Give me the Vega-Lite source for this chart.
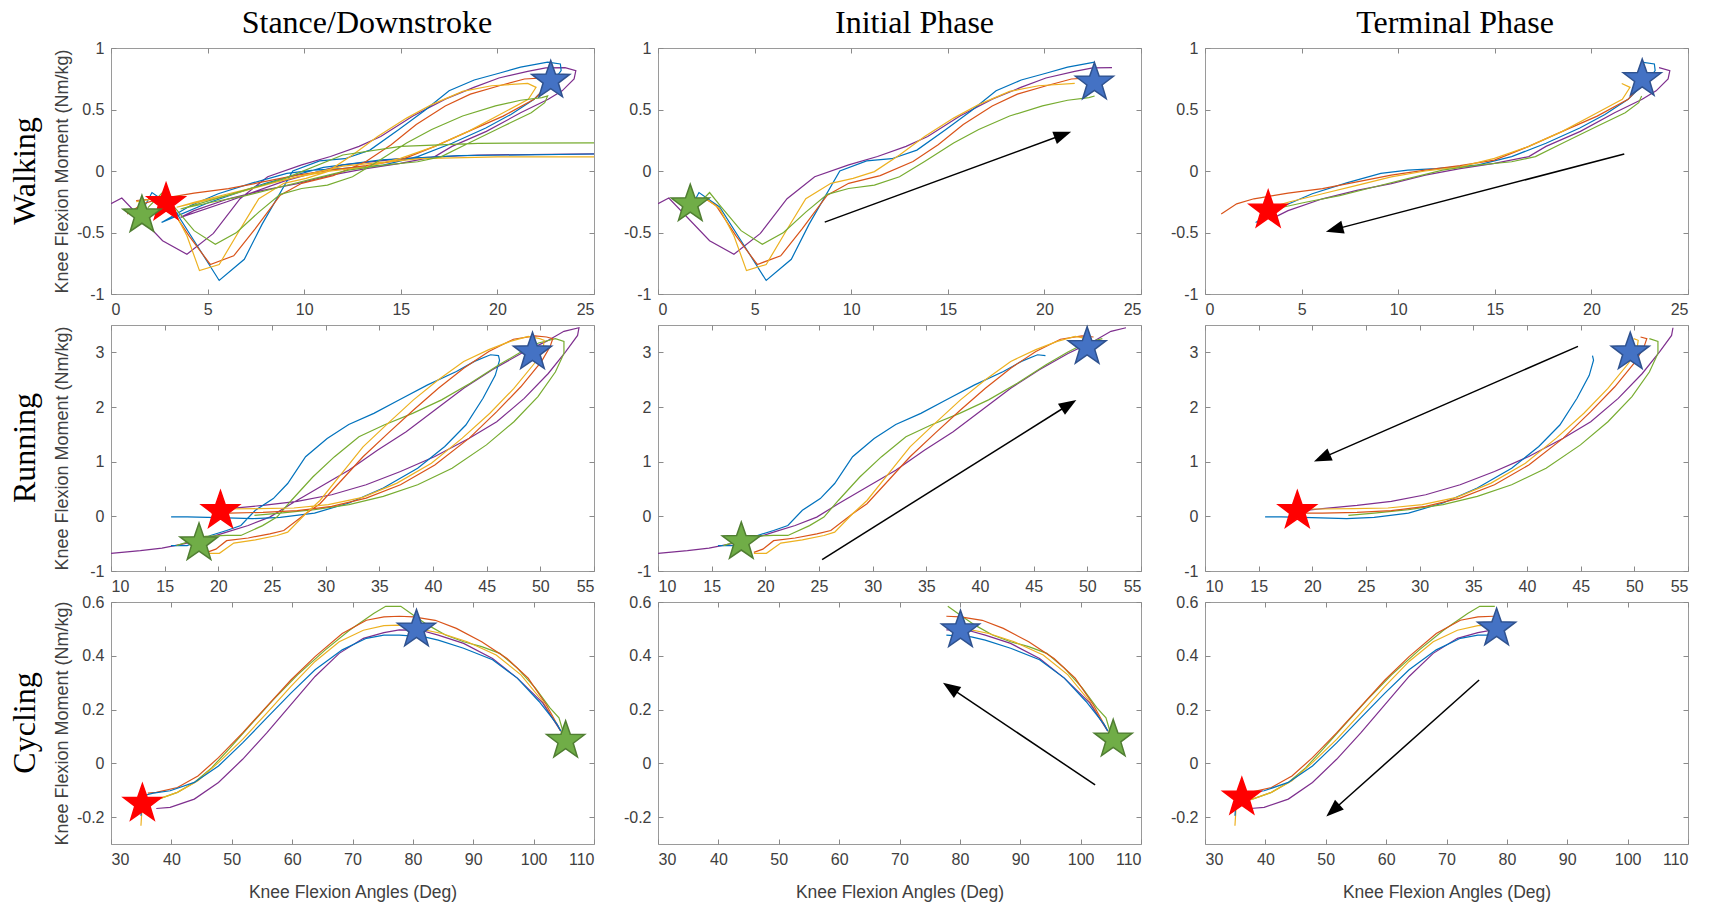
{
"$schema": "https://vega.github.io/schema/vega-lite/v6.json",
"padding": {"left": 8, "top": 6, "right": 5, "bottom": 5},
"columns": 3,
"bounds": "flush",
"spacing": {"row": 31, "column": 64},
"config": {
  "font": "Liberation Sans",
  "view": {"stroke": "#9a9a9a", "strokeWidth": 1},
  "axis": {"domain": false, "grid": false, "tickColor": "#8a8a8a", "tickSize": -5, "labelPadding": 12, "labelFont": "Liberation Sans", "labelFontSize": 16, "labelColor": "#404040", "titleFont": "Liberation Sans", "titleFontSize": 17.5, "titleFontWeight": "normal", "titleColor": "#404040", "labelExpr": "toString(datum.value)"}
},
"datasets": {
"lines": [
{"a":"W","g":"I","s":"purple","o":0,"x":0,"y":-0.266},{"a":"W","g":"I","s":"purple","o":1,"x":0.56,"y":-0.22},{"a":"W","g":"I","s":"purple","o":2,"x":2.67,"y":-0.567},{"a":"W","g":"I","s":"purple","o":3,"x":3.93,"y":-0.677},{"a":"W","g":"I","s":"purple","o":4,"x":5.3,"y":-0.507},{"a":"W","g":"I","s":"purple","o":5,"x":6.68,"y":-0.225},{"a":"W","g":"I","s":"purple","o":6,"x":8.11,"y":-0.047},{"a":"W","g":"I","s":"purple","o":7,"x":9.87,"y":0.05},{"a":"W","g":"I","s":"purple","o":8,"x":11.36,"y":0.118},{"a":"W","g":"I","s":"purple","o":9,"x":12.84,"y":0.2},{"a":"W","g":"I","s":"purple","o":10,"x":13.96,"y":0.28},{"a":"W","g":"I","s":"purple","o":11,"x":15.63,"y":0.447},{"a":"W","g":"I","s":"purple","o":12,"x":17.3,"y":0.584},{"a":"W","g":"I","s":"purple","o":13,"x":18.78,"y":0.68},{"a":"W","g":"I","s":"purple","o":14,"x":20.08,"y":0.756},{"a":"W","g":"I","s":"purple","o":15,"x":21.57,"y":0.81},{"a":"W","g":"I","s":"purple","o":16,"x":22.5,"y":0.838},{"a":"W","g":"I","s":"purple","o":17,"x":23.5,"y":0.84},
{"a":"W","g":"T","s":"purple","o":100,"x":23.5,"y":0.84},{"a":"W","g":"T","s":"purple","o":101,"x":24.06,"y":0.816},{"a":"W","g":"T","s":"purple","o":102,"x":23.97,"y":0.748},{"a":"W","g":"T","s":"purple","o":103,"x":23.35,"y":0.652},{"a":"W","g":"T","s":"purple","o":104,"x":22.63,"y":0.583},{"a":"W","g":"T","s":"purple","o":105,"x":21.2,"y":0.473},{"a":"W","g":"T","s":"purple","o":106,"x":19.43,"y":0.322},{"a":"W","g":"T","s":"purple","o":107,"x":17.65,"y":0.2},{"a":"W","g":"T","s":"purple","o":108,"x":16.76,"y":0.117},{"a":"W","g":"T","s":"purple","o":109,"x":14.98,"y":0.062},{"a":"W","g":"T","s":"purple","o":110,"x":13.2,"y":0.02},{"a":"W","g":"T","s":"purple","o":111,"x":11.4,"y":-0.034},{"a":"W","g":"T","s":"purple","o":112,"x":9.64,"y":-0.103},{"a":"W","g":"T","s":"purple","o":113,"x":7.86,"y":-0.158},{"a":"W","g":"T","s":"purple","o":114,"x":6.08,"y":-0.226},{"a":"W","g":"T","s":"purple","o":115,"x":4.3,"y":-0.322},{"a":"W","g":"T","s":"purple","o":116,"x":3.6,"y":-0.377},
{"a":"W","g":"X","s":"purple","o":200,"x":3.6,"y":-0.377},{"a":"W","g":"X","s":"purple","o":201,"x":6,"y":-0.25},{"a":"W","g":"X","s":"purple","o":202,"x":9,"y":-0.08},{"a":"W","g":"X","s":"purple","o":203,"x":12,"y":0.05},{"a":"W","g":"X","s":"purple","o":204,"x":15,"y":0.1},{"a":"W","g":"X","s":"purple","o":205,"x":19,"y":0.13},{"a":"W","g":"X","s":"purple","o":206,"x":26,"y":0.14},
{"a":"W","g":"I","s":"blue","o":0,"x":1.8,"y":-0.27},{"a":"W","g":"I","s":"blue","o":1,"x":2.12,"y":-0.175},{"a":"W","g":"I","s":"blue","o":2,"x":3.19,"y":-0.293},{"a":"W","g":"I","s":"blue","o":3,"x":4.3,"y":-0.567},{"a":"W","g":"I","s":"blue","o":4,"x":5.6,"y":-0.89},{"a":"W","g":"I","s":"blue","o":5,"x":6.9,"y":-0.718},{"a":"W","g":"I","s":"blue","o":6,"x":7.83,"y":-0.43},{"a":"W","g":"I","s":"blue","o":7,"x":9.41,"y":0.0},{"a":"W","g":"I","s":"blue","o":8,"x":10.8,"y":0.082},{"a":"W","g":"I","s":"blue","o":9,"x":12.1,"y":0.1},{"a":"W","g":"I","s":"blue","o":10,"x":13.4,"y":0.17},{"a":"W","g":"I","s":"blue","o":11,"x":14.9,"y":0.337},{"a":"W","g":"I","s":"blue","o":12,"x":16.2,"y":0.488},{"a":"W","g":"I","s":"blue","o":13,"x":17.5,"y":0.652},{"a":"W","g":"I","s":"blue","o":14,"x":18.8,"y":0.74},{"a":"W","g":"I","s":"blue","o":15,"x":20.08,"y":0.795},{"a":"W","g":"I","s":"blue","o":16,"x":21.2,"y":0.844},{"a":"W","g":"I","s":"blue","o":17,"x":22.6,"y":0.885},
{"a":"W","g":"T","s":"blue","o":100,"x":22.6,"y":0.885},{"a":"W","g":"T","s":"blue","o":101,"x":23.26,"y":0.87},{"a":"W","g":"T","s":"blue","o":102,"x":23.3,"y":0.816},{"a":"W","g":"T","s":"blue","o":103,"x":22.97,"y":0.748},{"a":"W","g":"T","s":"blue","o":104,"x":21.9,"y":0.583},{"a":"W","g":"T","s":"blue","o":105,"x":20.7,"y":0.46},{"a":"W","g":"T","s":"blue","o":106,"x":19.4,"y":0.35},{"a":"W","g":"T","s":"blue","o":107,"x":17.65,"y":0.226},{"a":"W","g":"T","s":"blue","o":108,"x":15.87,"y":0.117},{"a":"W","g":"T","s":"blue","o":109,"x":14.1,"y":0.048},{"a":"W","g":"T","s":"blue","o":110,"x":11.96,"y":0.02},{"a":"W","g":"T","s":"blue","o":111,"x":10.5,"y":0.007},{"a":"W","g":"T","s":"blue","o":112,"x":9.1,"y":-0.02},{"a":"W","g":"T","s":"blue","o":113,"x":7.33,"y":-0.097},{"a":"W","g":"T","s":"blue","o":114,"x":5.55,"y":-0.185},{"a":"W","g":"T","s":"blue","o":115,"x":4.13,"y":-0.28},{"a":"W","g":"T","s":"blue","o":116,"x":2.62,"y":-0.418},
{"a":"W","g":"X","s":"blue","o":200,"x":2.62,"y":-0.418},{"a":"W","g":"X","s":"blue","o":201,"x":5,"y":-0.26},{"a":"W","g":"X","s":"blue","o":202,"x":8,"y":-0.1},{"a":"W","g":"X","s":"blue","o":203,"x":11,"y":0.03},{"a":"W","g":"X","s":"blue","o":204,"x":14,"y":0.09},{"a":"W","g":"X","s":"blue","o":205,"x":18,"y":0.125},{"a":"W","g":"X","s":"blue","o":206,"x":26,"y":0.14},
{"a":"W","g":"I","s":"orange","o":0,"x":1.3,"y":-0.24},{"a":"W","g":"I","s":"orange","o":1,"x":2.45,"y":-0.225},{"a":"W","g":"I","s":"orange","o":2,"x":3.0,"y":-0.28},{"a":"W","g":"I","s":"orange","o":3,"x":4.03,"y":-0.526},{"a":"W","g":"I","s":"orange","o":4,"x":5.14,"y":-0.76},{"a":"W","g":"I","s":"orange","o":5,"x":6.35,"y":-0.69},{"a":"W","g":"I","s":"orange","o":6,"x":7.46,"y":-0.47},{"a":"W","g":"I","s":"orange","o":7,"x":8.76,"y":-0.197},{"a":"W","g":"I","s":"orange","o":8,"x":9.87,"y":-0.1},{"a":"W","g":"I","s":"orange","o":9,"x":11.5,"y":-0.038},{"a":"W","g":"I","s":"orange","o":10,"x":13.2,"y":0.077},{"a":"W","g":"I","s":"orange","o":11,"x":14.5,"y":0.214},{"a":"W","g":"I","s":"orange","o":12,"x":15.8,"y":0.378},{"a":"W","g":"I","s":"orange","o":13,"x":17.3,"y":0.529},{"a":"W","g":"I","s":"orange","o":14,"x":18.6,"y":0.625},{"a":"W","g":"I","s":"orange","o":15,"x":20.1,"y":0.693},{"a":"W","g":"I","s":"orange","o":16,"x":21.4,"y":0.748},{"a":"W","g":"I","s":"orange","o":17,"x":22.4,"y":0.757},
{"a":"W","g":"T","s":"orange","o":100,"x":22.4,"y":0.757},{"a":"W","g":"T","s":"orange","o":101,"x":22.6,"y":0.7},{"a":"W","g":"T","s":"orange","o":102,"x":21.9,"y":0.583},{"a":"W","g":"T","s":"orange","o":103,"x":20.3,"y":0.446},{"a":"W","g":"T","s":"orange","o":104,"x":18.5,"y":0.322},{"a":"W","g":"T","s":"orange","o":105,"x":16.76,"y":0.2},{"a":"W","g":"T","s":"orange","o":106,"x":14.98,"y":0.089},{"a":"W","g":"T","s":"orange","o":107,"x":13.2,"y":0.043},{"a":"W","g":"T","s":"orange","o":108,"x":11.4,"y":0.007},{"a":"W","g":"T","s":"orange","o":109,"x":9.64,"y":-0.034},{"a":"W","g":"T","s":"orange","o":110,"x":7.86,"y":-0.089},{"a":"W","g":"T","s":"orange","o":111,"x":6.08,"y":-0.144},{"a":"W","g":"T","s":"orange","o":112,"x":4.3,"y":-0.18},{"a":"W","g":"T","s":"orange","o":113,"x":2.53,"y":-0.226},{"a":"W","g":"T","s":"orange","o":114,"x":1.64,"y":-0.267},{"a":"W","g":"T","s":"orange","o":115,"x":0.84,"y":-0.35},
{"a":"W","g":"I","s":"yellow","o":0,"x":1.3,"y":-0.25},{"a":"W","g":"I","s":"yellow","o":1,"x":2.45,"y":-0.22},{"a":"W","g":"I","s":"yellow","o":2,"x":3.19,"y":-0.307},{"a":"W","g":"I","s":"yellow","o":3,"x":3.93,"y":-0.526},{"a":"W","g":"I","s":"yellow","o":4,"x":4.58,"y":-0.81},{"a":"W","g":"I","s":"yellow","o":5,"x":5.6,"y":-0.76},{"a":"W","g":"I","s":"yellow","o":6,"x":6.7,"y":-0.47},{"a":"W","g":"I","s":"yellow","o":7,"x":7.65,"y":-0.225},{"a":"W","g":"I","s":"yellow","o":8,"x":8.95,"y":-0.1},{"a":"W","g":"I","s":"yellow","o":9,"x":10.1,"y":-0.06},{"a":"W","g":"I","s":"yellow","o":10,"x":11.2,"y":-0.005},{"a":"W","g":"I","s":"yellow","o":11,"x":12.5,"y":0.13},{"a":"W","g":"I","s":"yellow","o":12,"x":13.8,"y":0.28},{"a":"W","g":"I","s":"yellow","o":13,"x":15.3,"y":0.43},{"a":"W","g":"I","s":"yellow","o":14,"x":16.6,"y":0.54},{"a":"W","g":"I","s":"yellow","o":15,"x":18.2,"y":0.647},{"a":"W","g":"I","s":"yellow","o":16,"x":19.7,"y":0.693},{"a":"W","g":"I","s":"yellow","o":17,"x":21.57,"y":0.712},
{"a":"W","g":"T","s":"yellow","o":100,"x":21.57,"y":0.712},{"a":"W","g":"T","s":"yellow","o":101,"x":22.0,"y":0.68},{"a":"W","g":"T","s":"yellow","o":102,"x":21.6,"y":0.583},{"a":"W","g":"T","s":"yellow","o":103,"x":20.3,"y":0.473},{"a":"W","g":"T","s":"yellow","o":104,"x":18.5,"y":0.322},{"a":"W","g":"T","s":"yellow","o":105,"x":16.76,"y":0.2},{"a":"W","g":"T","s":"yellow","o":106,"x":14.98,"y":0.103},{"a":"W","g":"T","s":"yellow","o":107,"x":13.2,"y":0.034},{"a":"W","g":"T","s":"yellow","o":108,"x":11.4,"y":0.0},{"a":"W","g":"T","s":"yellow","o":109,"x":9.64,"y":-0.048},{"a":"W","g":"T","s":"yellow","o":110,"x":7.86,"y":-0.117},{"a":"W","g":"T","s":"yellow","o":111,"x":6.08,"y":-0.185},{"a":"W","g":"T","s":"yellow","o":112,"x":4.3,"y":-0.254},{"a":"W","g":"T","s":"yellow","o":113,"x":3.4,"y":-0.295},
{"a":"W","g":"X","s":"yellow","o":200,"x":3.4,"y":-0.295},{"a":"W","g":"X","s":"yellow","o":201,"x":6,"y":-0.2},{"a":"W","g":"X","s":"yellow","o":202,"x":9,"y":-0.07},{"a":"W","g":"X","s":"yellow","o":203,"x":12,"y":0.04},{"a":"W","g":"X","s":"yellow","o":204,"x":16,"y":0.1},{"a":"W","g":"X","s":"yellow","o":205,"x":20,"y":0.115},{"a":"W","g":"X","s":"yellow","o":206,"x":26,"y":0.115},
{"a":"W","g":"I","s":"green","o":0,"x":1.9,"y":-0.3},{"a":"W","g":"I","s":"green","o":1,"x":2.67,"y":-0.175},{"a":"W","g":"I","s":"green","o":2,"x":3.28,"y":-0.293},{"a":"W","g":"I","s":"green","o":3,"x":4.3,"y":-0.485},{"a":"W","g":"I","s":"green","o":4,"x":5.4,"y":-0.595},{"a":"W","g":"I","s":"green","o":5,"x":6.5,"y":-0.5},{"a":"W","g":"I","s":"green","o":6,"x":7.65,"y":-0.334},{"a":"W","g":"I","s":"green","o":7,"x":8.76,"y":-0.19},{"a":"W","g":"I","s":"green","o":8,"x":9.87,"y":-0.142},{"a":"W","g":"I","s":"green","o":9,"x":11.2,"y":-0.115},{"a":"W","g":"I","s":"green","o":10,"x":12.5,"y":-0.047},{"a":"W","g":"I","s":"green","o":11,"x":13.8,"y":0.077},{"a":"W","g":"I","s":"green","o":12,"x":15.3,"y":0.227},{"a":"W","g":"I","s":"green","o":13,"x":16.6,"y":0.337},{"a":"W","g":"I","s":"green","o":14,"x":18.2,"y":0.447},{"a":"W","g":"I","s":"green","o":15,"x":19.9,"y":0.53},{"a":"W","g":"I","s":"green","o":16,"x":21.2,"y":0.575},{"a":"W","g":"I","s":"green","o":17,"x":22.3,"y":0.597},{"a":"W","g":"I","s":"green","o":18,"x":22.6,"y":0.61},
{"a":"W","g":"T","s":"green","o":100,"x":22.6,"y":0.61},{"a":"W","g":"T","s":"green","o":101,"x":22.45,"y":0.555},{"a":"W","g":"T","s":"green","o":102,"x":21.75,"y":0.473},{"a":"W","g":"T","s":"green","o":103,"x":20.3,"y":0.364},{"a":"W","g":"T","s":"green","o":104,"x":18.5,"y":0.226},{"a":"W","g":"T","s":"green","o":105,"x":17.1,"y":0.117},{"a":"W","g":"T","s":"green","o":106,"x":15.87,"y":0.075},{"a":"W","g":"T","s":"green","o":107,"x":14.1,"y":0.048},{"a":"W","g":"T","s":"green","o":108,"x":12.3,"y":0.007},{"a":"W","g":"T","s":"green","o":109,"x":10.5,"y":-0.062},{"a":"W","g":"T","s":"green","o":110,"x":8.75,"y":-0.13},{"a":"W","g":"T","s":"green","o":111,"x":6.97,"y":-0.2},{"a":"W","g":"T","s":"green","o":112,"x":5.2,"y":-0.254},{"a":"W","g":"T","s":"green","o":113,"x":3.6,"y":-0.309},
{"a":"W","g":"X","s":"green","o":200,"x":3.6,"y":-0.309},{"a":"W","g":"X","s":"green","o":201,"x":6,"y":-0.2},{"a":"W","g":"X","s":"green","o":202,"x":9,"y":-0.06},{"a":"W","g":"X","s":"green","o":203,"x":12,"y":0.13},{"a":"W","g":"X","s":"green","o":204,"x":15,"y":0.2},{"a":"W","g":"X","s":"green","o":205,"x":19,"y":0.225},{"a":"W","g":"X","s":"green","o":206,"x":26,"y":0.23},

{"a":"R","g":"I","s":"purple","o":0,"x":10,"y":-0.677},{"a":"R","g":"I","s":"purple","o":1,"x":12.74,"y":-0.628},{"a":"R","g":"I","s":"purple","o":2,"x":14.75,"y":-0.58},{"a":"R","g":"I","s":"purple","o":3,"x":16.76,"y":-0.505},{"a":"R","g":"I","s":"purple","o":4,"x":18.77,"y":-0.413},{"a":"R","g":"I","s":"purple","o":5,"x":20.77,"y":-0.29},{"a":"R","g":"I","s":"purple","o":6,"x":22.78,"y":-0.167},{"a":"R","g":"I","s":"purple","o":7,"x":24.79,"y":-0.014},{"a":"R","g":"I","s":"purple","o":8,"x":26.8,"y":0.23},{"a":"R","g":"I","s":"purple","o":9,"x":29.47,"y":0.537},{"a":"R","g":"I","s":"purple","o":10,"x":32.15,"y":0.843},{"a":"R","g":"I","s":"purple","o":11,"x":34.82,"y":1.21},{"a":"R","g":"I","s":"purple","o":12,"x":37.5,"y":1.546},{"a":"R","g":"I","s":"purple","o":13,"x":40.18,"y":1.944},{"a":"R","g":"I","s":"purple","o":14,"x":42.86,"y":2.343},{"a":"R","g":"I","s":"purple","o":15,"x":45.53,"y":2.68},{"a":"R","g":"I","s":"purple","o":16,"x":48.2,"y":2.98},{"a":"R","g":"I","s":"purple","o":17,"x":50.55,"y":3.2},{"a":"R","g":"I","s":"purple","o":18,"x":52.2,"y":3.384},{"a":"R","g":"I","s":"purple","o":19,"x":53.6,"y":3.45},
{"a":"R","g":"T","s":"purple","o":100,"x":53.6,"y":3.45},{"a":"R","g":"T","s":"purple","o":101,"x":53.47,"y":3.31},{"a":"R","g":"T","s":"purple","o":102,"x":52.35,"y":3.01},{"a":"R","g":"T","s":"purple","o":103,"x":50.74,"y":2.613},{"a":"R","g":"T","s":"purple","o":104,"x":48.5,"y":2.158},{"a":"R","g":"T","s":"purple","o":105,"x":45.94,"y":1.73},{"a":"R","g":"T","s":"purple","o":106,"x":43.38,"y":1.43},{"a":"R","g":"T","s":"purple","o":107,"x":40.17,"y":1.094},{"a":"R","g":"T","s":"purple","o":108,"x":36.97,"y":0.82},{"a":"R","g":"T","s":"purple","o":109,"x":33.77,"y":0.578},{"a":"R","g":"T","s":"purple","o":110,"x":30.56,"y":0.395},{"a":"R","g":"T","s":"purple","o":111,"x":27.36,"y":0.274},{"a":"R","g":"T","s":"purple","o":112,"x":24.16,"y":0.2},{"a":"R","g":"T","s":"purple","o":113,"x":20.95,"y":0.14},{"a":"R","g":"T","s":"purple","o":114,"x":19.35,"y":0.11},
{"a":"R","g":"I","s":"blue","o":0,"x":15.59,"y":-0.534},{"a":"R","g":"I","s":"blue","o":1,"x":17.1,"y":-0.534},{"a":"R","g":"I","s":"blue","o":2,"x":19.27,"y":-0.35},{"a":"R","g":"I","s":"blue","o":3,"x":20.77,"y":-0.26},{"a":"R","g":"I","s":"blue","o":4,"x":22.1,"y":-0.167},{"a":"R","g":"I","s":"blue","o":5,"x":23.45,"y":0.11},{"a":"R","g":"I","s":"blue","o":6,"x":25.12,"y":0.324},{"a":"R","g":"I","s":"blue","o":7,"x":26.46,"y":0.6},{"a":"R","g":"I","s":"blue","o":8,"x":28.13,"y":1.09},{"a":"R","g":"I","s":"blue","o":9,"x":30.14,"y":1.425},{"a":"R","g":"I","s":"blue","o":10,"x":32.15,"y":1.68},{"a":"R","g":"I","s":"blue","o":11,"x":34.49,"y":1.884},{"a":"R","g":"I","s":"blue","o":12,"x":36.83,"y":2.129},{"a":"R","g":"I","s":"blue","o":13,"x":39.5,"y":2.405},{"a":"R","g":"I","s":"blue","o":14,"x":42.18,"y":2.65},{"a":"R","g":"I","s":"blue","o":15,"x":43.86,"y":2.834},{"a":"R","g":"I","s":"blue","o":16,"x":45.36,"y":2.956},{"a":"R","g":"I","s":"blue","o":17,"x":46.1,"y":2.94},
{"a":"R","g":"T","s":"blue","o":100,"x":46.1,"y":2.94},{"a":"R","g":"T","s":"blue","o":101,"x":46.2,"y":2.857},{"a":"R","g":"T","s":"blue","o":102,"x":45.8,"y":2.58},{"a":"R","g":"T","s":"blue","o":103,"x":44.66,"y":2.16},{"a":"R","g":"T","s":"blue","o":104,"x":43.06,"y":1.67},{"a":"R","g":"T","s":"blue","o":105,"x":41.1,"y":1.277},{"a":"R","g":"T","s":"blue","o":106,"x":38.57,"y":0.88},{"a":"R","g":"T","s":"blue","o":107,"x":35.37,"y":0.517},{"a":"R","g":"T","s":"blue","o":108,"x":32.17,"y":0.243},{"a":"R","g":"T","s":"blue","o":109,"x":28.96,"y":0.06},{"a":"R","g":"T","s":"blue","o":110,"x":25.76,"y":-0.018},{"a":"R","g":"T","s":"blue","o":111,"x":23.2,"y":-0.043},{"a":"R","g":"T","s":"blue","o":112,"x":19.99,"y":-0.025},{"a":"R","g":"T","s":"blue","o":113,"x":17.1,"y":-0.01},{"a":"R","g":"T","s":"blue","o":114,"x":15.6,"y":-0.01},
{"a":"R","g":"I","s":"green","o":0,"x":16.1,"y":-0.535},{"a":"R","g":"I","s":"green","o":1,"x":18.77,"y":-0.365},{"a":"R","g":"I","s":"green","o":2,"x":20.77,"y":-0.35},{"a":"R","g":"I","s":"green","o":3,"x":22.1,"y":-0.35},{"a":"R","g":"I","s":"green","o":4,"x":24.12,"y":-0.17},{"a":"R","g":"I","s":"green","o":5,"x":25.46,"y":-0.014},{"a":"R","g":"I","s":"green","o":6,"x":26.8,"y":0.29},{"a":"R","g":"I","s":"green","o":7,"x":28.8,"y":0.72},{"a":"R","g":"I","s":"green","o":8,"x":30.8,"y":1.087},{"a":"R","g":"I","s":"green","o":9,"x":33.1,"y":1.455},{"a":"R","g":"I","s":"green","o":10,"x":35.44,"y":1.67},{"a":"R","g":"I","s":"green","o":11,"x":38.1,"y":1.884},{"a":"R","g":"I","s":"green","o":12,"x":40.8,"y":2.13},{"a":"R","g":"I","s":"green","o":13,"x":43.47,"y":2.435},{"a":"R","g":"I","s":"green","o":14,"x":46.15,"y":2.772},{"a":"R","g":"I","s":"green","o":15,"x":48.15,"y":3.0},{"a":"R","g":"I","s":"green","o":16,"x":49.84,"y":3.17},{"a":"R","g":"I","s":"green","o":17,"x":51.4,"y":3.25},
{"a":"R","g":"T","s":"green","o":100,"x":51.4,"y":3.25},{"a":"R","g":"T","s":"green","o":101,"x":52.2,"y":3.2},{"a":"R","g":"T","s":"green","o":102,"x":52.2,"y":2.98},{"a":"R","g":"T","s":"green","o":103,"x":51.4,"y":2.64},{"a":"R","g":"T","s":"green","o":104,"x":49.78,"y":2.19},{"a":"R","g":"T","s":"green","o":105,"x":47.54,"y":1.73},{"a":"R","g":"T","s":"green","o":106,"x":44.98,"y":1.307},{"a":"R","g":"T","s":"green","o":107,"x":41.78,"y":0.88},{"a":"R","g":"T","s":"green","o":108,"x":38.57,"y":0.578},{"a":"R","g":"T","s":"green","o":109,"x":35.37,"y":0.365},{"a":"R","g":"T","s":"green","o":110,"x":32.17,"y":0.213},{"a":"R","g":"T","s":"green","o":111,"x":28.96,"y":0.122},{"a":"R","g":"T","s":"green","o":112,"x":25.76,"y":0.06},{"a":"R","g":"T","s":"green","o":113,"x":23.36,"y":0.018},
{"a":"R","g":"I","s":"orange","o":0,"x":18.93,"y":-0.66},{"a":"R","g":"I","s":"orange","o":1,"x":19.77,"y":-0.6},{"a":"R","g":"I","s":"orange","o":2,"x":20.77,"y":-0.445},{"a":"R","g":"I","s":"orange","o":3,"x":22.78,"y":-0.396},{"a":"R","g":"I","s":"orange","o":4,"x":24.8,"y":-0.32},{"a":"R","g":"I","s":"orange","o":5,"x":26.1,"y":-0.26},{"a":"R","g":"I","s":"orange","o":6,"x":28.13,"y":0.047},{"a":"R","g":"I","s":"orange","o":7,"x":29.47,"y":0.23},{"a":"R","g":"I","s":"orange","o":8,"x":31.48,"y":0.66},{"a":"R","g":"I","s":"orange","o":9,"x":33.48,"y":1.09},{"a":"R","g":"I","s":"orange","o":10,"x":35.8,"y":1.517},{"a":"R","g":"I","s":"orange","o":11,"x":38.18,"y":1.945},{"a":"R","g":"I","s":"orange","o":12,"x":40.5,"y":2.343},{"a":"R","g":"I","s":"orange","o":13,"x":42.86,"y":2.71},{"a":"R","g":"I","s":"orange","o":14,"x":45.2,"y":3.017},{"a":"R","g":"I","s":"orange","o":15,"x":47.5,"y":3.24},{"a":"R","g":"I","s":"orange","o":16,"x":49.5,"y":3.3},{"a":"R","g":"I","s":"orange","o":17,"x":50.58,"y":3.28},
{"a":"R","g":"T","s":"orange","o":100,"x":50.58,"y":3.28},{"a":"R","g":"T","s":"orange","o":101,"x":51.16,"y":3.25},{"a":"R","g":"T","s":"orange","o":102,"x":50.9,"y":3.1},{"a":"R","g":"T","s":"orange","o":103,"x":50.1,"y":2.83},{"a":"R","g":"T","s":"orange","o":104,"x":48.18,"y":2.37},{"a":"R","g":"T","s":"orange","o":105,"x":45.94,"y":1.915},{"a":"R","g":"T","s":"orange","o":106,"x":43.38,"y":1.43},{"a":"R","g":"T","s":"orange","o":107,"x":40.17,"y":0.94},{"a":"R","g":"T","s":"orange","o":108,"x":36.97,"y":0.578},{"a":"R","g":"T","s":"orange","o":109,"x":33.77,"y":0.334},{"a":"R","g":"T","s":"orange","o":110,"x":30.56,"y":0.182},{"a":"R","g":"T","s":"orange","o":111,"x":27.36,"y":0.103},{"a":"R","g":"T","s":"orange","o":112,"x":24.16,"y":0.073},{"a":"R","g":"T","s":"orange","o":113,"x":20.95,"y":0.06},{"a":"R","g":"T","s":"orange","o":114,"x":19.35,"y":0.06},
{"a":"R","g":"I","s":"yellow","o":0,"x":18.93,"y":-0.677},{"a":"R","g":"I","s":"yellow","o":1,"x":20.1,"y":-0.677},{"a":"R","g":"I","s":"yellow","o":2,"x":21.44,"y":-0.49},{"a":"R","g":"I","s":"yellow","o":3,"x":23.45,"y":-0.43},{"a":"R","g":"I","s":"yellow","o":4,"x":25.46,"y":-0.35},{"a":"R","g":"I","s":"yellow","o":5,"x":26.46,"y":-0.29},{"a":"R","g":"I","s":"yellow","o":6,"x":28.13,"y":0.047},{"a":"R","g":"I","s":"yellow","o":7,"x":29.47,"y":0.29},{"a":"R","g":"I","s":"yellow","o":8,"x":31.48,"y":0.78},{"a":"R","g":"I","s":"yellow","o":9,"x":33.48,"y":1.27},{"a":"R","g":"I","s":"yellow","o":10,"x":35.8,"y":1.7},{"a":"R","g":"I","s":"yellow","o":11,"x":38.18,"y":2.13},{"a":"R","g":"I","s":"yellow","o":12,"x":40.5,"y":2.5},{"a":"R","g":"I","s":"yellow","o":13,"x":42.86,"y":2.834},{"a":"R","g":"I","s":"yellow","o":14,"x":45.2,"y":3.05},{"a":"R","g":"I","s":"yellow","o":15,"x":47.2,"y":3.2},{"a":"R","g":"I","s":"yellow","o":16,"x":48.87,"y":3.29},{"a":"R","g":"I","s":"yellow","o":17,"x":49.94,"y":3.25},
{"a":"R","g":"T","s":"yellow","o":100,"x":49.94,"y":3.25},{"a":"R","g":"T","s":"yellow","o":101,"x":50.36,"y":3.22},{"a":"R","g":"T","s":"yellow","o":102,"x":50.26,"y":3.07},{"a":"R","g":"T","s":"yellow","o":103,"x":49.46,"y":2.8},{"a":"R","g":"T","s":"yellow","o":104,"x":47.54,"y":2.34},{"a":"R","g":"T","s":"yellow","o":105,"x":45.3,"y":1.885},{"a":"R","g":"T","s":"yellow","o":106,"x":42.73,"y":1.43},{"a":"R","g":"T","s":"yellow","o":107,"x":39.85,"y":0.97},{"a":"R","g":"T","s":"yellow","o":108,"x":36.65,"y":0.608},{"a":"R","g":"T","s":"yellow","o":109,"x":33.45,"y":0.347},{"a":"R","g":"T","s":"yellow","o":110,"x":30.24,"y":0.213},{"a":"R","g":"T","s":"yellow","o":111,"x":27.04,"y":0.152},{"a":"R","g":"T","s":"yellow","o":112,"x":23.84,"y":0.14},{"a":"R","g":"T","s":"yellow","o":113,"x":20.64,"y":0.134},{"a":"R","g":"T","s":"yellow","o":114,"x":19.35,"y":0.134},

{"a":"C","g":"I","s":"green","o":0,"x":105,"y":0.108},{"a":"C","g":"I","s":"green","o":1,"x":104.2,"y":0.169},{"a":"C","g":"I","s":"green","o":2,"x":102.7,"y":0.206},{"a":"C","g":"I","s":"green","o":3,"x":100.3,"y":0.28},{"a":"C","g":"I","s":"green","o":4,"x":97.3,"y":0.354},{"a":"C","g":"I","s":"green","o":5,"x":94.4,"y":0.409},{"a":"C","g":"I","s":"green","o":6,"x":91.4,"y":0.434},{"a":"C","g":"I","s":"green","o":7,"x":88.4,"y":0.452},{"a":"C","g":"I","s":"green","o":8,"x":85.4,"y":0.477},{"a":"C","g":"I","s":"green","o":9,"x":82.5,"y":0.514},{"a":"C","g":"I","s":"green","o":10,"x":80.1,"y":0.551},{"a":"C","g":"I","s":"green","o":11,"x":78.0,"y":0.584},
{"a":"C","g":"T","s":"green","o":100,"x":78.0,"y":0.584},{"a":"C","g":"T","s":"green","o":101,"x":75.5,"y":0.584},{"a":"C","g":"T","s":"green","o":102,"x":73.5,"y":0.557},{"a":"C","g":"T","s":"green","o":103,"x":69.5,"y":0.495},{"a":"C","g":"T","s":"green","o":104,"x":65.5,"y":0.422},{"a":"C","g":"T","s":"green","o":105,"x":60.9,"y":0.329},{"a":"C","g":"T","s":"green","o":106,"x":56.9,"y":0.237},{"a":"C","g":"T","s":"green","o":107,"x":52.9,"y":0.138},{"a":"C","g":"T","s":"green","o":108,"x":49.5,"y":0.052},{"a":"C","g":"T","s":"green","o":109,"x":46.7,"y":-0.016},{"a":"C","g":"T","s":"green","o":110,"x":43.8,"y":-0.071},{"a":"C","g":"T","s":"green","o":111,"x":41.0,"y":-0.108},{"a":"C","g":"T","s":"green","o":112,"x":38.1,"y":-0.131},{"a":"C","g":"T","s":"green","o":113,"x":36.4,"y":-0.139},
{"a":"C","g":"I","s":"orange","o":0,"x":104.5,"y":0.12},{"a":"C","g":"I","s":"orange","o":1,"x":102.1,"y":0.218},{"a":"C","g":"I","s":"orange","o":2,"x":99.1,"y":0.317},{"a":"C","g":"I","s":"orange","o":3,"x":95.6,"y":0.39},{"a":"C","g":"I","s":"orange","o":4,"x":91.4,"y":0.452},{"a":"C","g":"I","s":"orange","o":5,"x":87.2,"y":0.502},{"a":"C","g":"I","s":"orange","o":6,"x":83.7,"y":0.532},{"a":"C","g":"I","s":"orange","o":7,"x":80.1,"y":0.545},{"a":"C","g":"I","s":"orange","o":8,"x":77.76,"y":0.547},
{"a":"C","g":"T","s":"orange","o":100,"x":77.76,"y":0.547},{"a":"C","g":"T","s":"orange","o":101,"x":75.2,"y":0.545},{"a":"C","g":"T","s":"orange","o":102,"x":72.3,"y":0.532},{"a":"C","g":"T","s":"orange","o":103,"x":68.3,"y":0.483},{"a":"C","g":"T","s":"orange","o":104,"x":63.8,"y":0.397},{"a":"C","g":"T","s":"orange","o":105,"x":59.8,"y":0.31},{"a":"C","g":"T","s":"orange","o":106,"x":55.8,"y":0.212},{"a":"C","g":"T","s":"orange","o":107,"x":51.8,"y":0.113},{"a":"C","g":"T","s":"orange","o":108,"x":47.8,"y":0.021},{"a":"C","g":"T","s":"orange","o":109,"x":44.4,"y":-0.047},{"a":"C","g":"T","s":"orange","o":110,"x":41.0,"y":-0.09},{"a":"C","g":"T","s":"orange","o":111,"x":37.5,"y":-0.108},{"a":"C","g":"T","s":"orange","o":112,"x":36.1,"y":-0.111},
{"a":"C","g":"I","s":"yellow","o":0,"x":104.5,"y":0.12},{"a":"C","g":"I","s":"yellow","o":1,"x":101.5,"y":0.23},{"a":"C","g":"I","s":"yellow","o":2,"x":97.9,"y":0.329},{"a":"C","g":"I","s":"yellow","o":3,"x":93.8,"y":0.403},{"a":"C","g":"I","s":"yellow","o":4,"x":89.0,"y":0.452},{"a":"C","g":"I","s":"yellow","o":5,"x":84.8,"y":0.483},{"a":"C","g":"I","s":"yellow","o":6,"x":80.7,"y":0.502},{"a":"C","g":"I","s":"yellow","o":7,"x":77.76,"y":0.514},
{"a":"C","g":"T","s":"yellow","o":100,"x":77.76,"y":0.514},{"a":"C","g":"T","s":"yellow","o":101,"x":75.2,"y":0.512},{"a":"C","g":"T","s":"yellow","o":102,"x":71.8,"y":0.495},{"a":"C","g":"T","s":"yellow","o":103,"x":67.8,"y":0.452},{"a":"C","g":"T","s":"yellow","o":104,"x":63.8,"y":0.379},{"a":"C","g":"T","s":"yellow","o":105,"x":59.8,"y":0.286},{"a":"C","g":"T","s":"yellow","o":106,"x":55.8,"y":0.187},{"a":"C","g":"T","s":"yellow","o":107,"x":51.8,"y":0.089},{"a":"C","g":"T","s":"yellow","o":108,"x":47.8,"y":0.0025},{"a":"C","g":"T","s":"yellow","o":109,"x":44.4,"y":-0.065},{"a":"C","g":"T","s":"yellow","o":110,"x":41.0,"y":-0.108},{"a":"C","g":"T","s":"yellow","o":111,"x":37.5,"y":-0.136},{"a":"C","g":"T","s":"yellow","o":112,"x":35.2,"y":-0.143},{"a":"C","g":"T","s":"yellow","o":113,"x":34.96,"y":-0.232},
{"a":"C","g":"I","s":"purple","o":0,"x":104.5,"y":0.12},{"a":"C","g":"I","s":"purple","o":1,"x":101.5,"y":0.225},{"a":"C","g":"I","s":"purple","o":2,"x":97.3,"y":0.317},{"a":"C","g":"I","s":"purple","o":3,"x":93.2,"y":0.39},{"a":"C","g":"I","s":"purple","o":4,"x":88.4,"y":0.446},{"a":"C","g":"I","s":"purple","o":5,"x":84.2,"y":0.477},{"a":"C","g":"I","s":"purple","o":6,"x":81.3,"y":0.495},{"a":"C","g":"I","s":"purple","o":7,"x":77.76,"y":0.496},
{"a":"C","g":"T","s":"purple","o":100,"x":77.76,"y":0.496},{"a":"C","g":"T","s":"purple","o":101,"x":75.2,"y":0.486},{"a":"C","g":"T","s":"purple","o":102,"x":71.8,"y":0.465},{"a":"C","g":"T","s":"purple","o":103,"x":67.8,"y":0.409},{"a":"C","g":"T","s":"purple","o":104,"x":63.8,"y":0.323},{"a":"C","g":"T","s":"purple","o":105,"x":59.8,"y":0.218},{"a":"C","g":"T","s":"purple","o":106,"x":55.8,"y":0.113},{"a":"C","g":"T","s":"purple","o":107,"x":51.8,"y":0.015},{"a":"C","g":"T","s":"purple","o":108,"x":47.8,"y":-0.071},{"a":"C","g":"T","s":"purple","o":109,"x":43.8,"y":-0.133},{"a":"C","g":"T","s":"purple","o":110,"x":39.8,"y":-0.164},{"a":"C","g":"T","s":"purple","o":111,"x":37.5,"y":-0.168},
{"a":"C","g":"I","s":"blue","o":0,"x":104.5,"y":0.12},{"a":"C","g":"I","s":"blue","o":1,"x":103.9,"y":0.145},{"a":"C","g":"I","s":"blue","o":2,"x":100.9,"y":0.23},{"a":"C","g":"I","s":"blue","o":3,"x":97.3,"y":0.317},{"a":"C","g":"I","s":"blue","o":4,"x":93.2,"y":0.385},{"a":"C","g":"I","s":"blue","o":5,"x":88.4,"y":0.428},{"a":"C","g":"I","s":"blue","o":6,"x":84.2,"y":0.458},{"a":"C","g":"I","s":"blue","o":7,"x":81.9,"y":0.47},{"a":"C","g":"I","s":"blue","o":8,"x":77.76,"y":0.477},
{"a":"C","g":"T","s":"blue","o":100,"x":77.76,"y":0.477},{"a":"C","g":"T","s":"blue","o":101,"x":75.2,"y":0.477},{"a":"C","g":"T","s":"blue","o":102,"x":72.3,"y":0.465},{"a":"C","g":"T","s":"blue","o":103,"x":68.3,"y":0.422},{"a":"C","g":"T","s":"blue","o":104,"x":63.8,"y":0.348},{"a":"C","g":"T","s":"blue","o":105,"x":59.8,"y":0.261},{"a":"C","g":"T","s":"blue","o":106,"x":55.8,"y":0.169},{"a":"C","g":"T","s":"blue","o":107,"x":51.8,"y":0.076},{"a":"C","g":"T","s":"blue","o":108,"x":47.8,"y":-0.01},{"a":"C","g":"T","s":"blue","o":109,"x":43.8,"y":-0.071},{"a":"C","g":"T","s":"blue","o":110,"x":39.8,"y":-0.102},{"a":"C","g":"T","s":"blue","o":111,"x":37.0,"y":-0.111},{"a":"C","g":"T","s":"blue","o":112,"x":35.2,"y":-0.121},{"a":"C","g":"T","s":"blue","o":113,"x":34.96,"y":-0.195}
],
"stars": [
{"p":"WS","k":"red","x":2.85,"y":-0.26},{"p":"WS","k":"green","x":1.6,"y":-0.36},{"p":"WS","k":"blue","x":22.76,"y":0.735},
{"p":"WI","k":"green","x":1.67,"y":-0.27},{"p":"WI","k":"blue","x":22.59,"y":0.72},
{"p":"WT","k":"red","x":3.27,"y":-0.32},{"p":"WT","k":"blue","x":22.63,"y":0.748},
{"p":"RS","k":"red","x":20.2,"y":0.1},{"p":"RS","k":"green","x":18.2,"y":-0.49},{"p":"RS","k":"blue","x":49.27,"y":3.0},
{"p":"RI","k":"green","x":17.76,"y":-0.47},{"p":"RI","k":"blue","x":49.98,"y":3.1},
{"p":"RT","k":"red","x":18.6,"y":0.1},{"p":"RT","k":"blue","x":49.62,"y":3.0},
{"p":"CS","k":"red","x":35.2,"y":-0.15},{"p":"CS","k":"blue","x":80.6,"y":0.498},{"p":"CS","k":"green","x":105.3,"y":0.084},
{"p":"CI","k":"blue","x":80.1,"y":0.495},{"p":"CI","k":"green","x":105.4,"y":0.089},
{"p":"CT","k":"red","x":36.1,"y":-0.127},{"p":"CT","k":"blue","x":78.3,"y":0.502}
],
"arrows": [
{"p":"WI","o":0,"x":8.63,"y":-0.416},{"p":"WI","o":1,"x":20.85,"y":0.288},
{"p":"WT","o":0,"x":21.7,"y":0.138},{"p":"WT","o":1,"x":6.81,"y":-0.4705},
{"p":"RI","o":0,"x":25.29,"y":-0.79},{"p":"RI","o":1,"x":48.11,"y":2.023},
{"p":"RT","o":0,"x":44.75,"y":3.11},{"p":"RT","o":1,"x":21.09,"y":1.083},
{"p":"CI","o":0,"x":102.4,"y":-0.08},{"p":"CI","o":1,"x":78.71,"y":0.277},
{"p":"CT","o":0,"x":75.4,"y":0.31},{"p":"CT","o":1,"x":51.45,"y":-0.17}
],
"heads": [
{"p":"WI","x":20.85,"y":0.288,"ang":70},
{"p":"WT","x":6.81,"y":-0.4705,"ang":255.4},
{"p":"RI","x":48.11,"y":2.023,"ang":57.9},
{"p":"RT","x":21.09,"y":1.083,"ang":246.4},
{"p":"CI","x":78.71,"y":0.277,"ang":303.9},
{"p":"CT","x":51.45,"y":-0.17,"ang":228.2}
]
},
"concat": [
{
 "width": 483, "height": 246,
 "title": {"text": "Walking", "orient": "left", "font": "Liberation Serif", "fontSize": 32, "fontWeight": "normal", "color": "#000000", "offset": 11},
 "layer": [
  {"data": {"name": "lines"}, "transform": [{"filter": "datum.a == 'W'"}], "mark": {"type": "line", "clip": true, "strokeWidth": 1.2},
   "encoding": {
    "x": {"field": "x", "type": "quantitative", "scale": {"domain": [0, 25], "nice": false, "zero": false}, "axis": {"values": [0, 5, 10, 15, 20, 25], "title": null}},
    "y": {"field": "y", "type": "quantitative", "scale": {"domain": [-1, 1], "nice": false, "zero": false}, "axis": {"values": [-1, -0.5, 0, 0.5, 1], "title": "Knee Flexion Moment (Nm/kg)", "titleFontSize": 18, "titlePadding": 5, "minExtent": 35, "maxExtent": 35}},
    "color": {"field": "s", "type": "nominal", "scale": {"domain": ["blue", "orange", "yellow", "purple", "green"], "range": ["#0072BD", "#D95319", "#EDB120", "#7E2F8E", "#77AC30"]}, "legend": null},
    "order": {"field": "o", "type": "quantitative"}}},
  {"data": {"name": "stars"}, "transform": [{"filter": "datum.p == 'WS'"}], "mark": {"type": "point", "shape": "M0,-1L0.235,-0.324L0.951,-0.309L0.38,0.124L0.588,0.809L0,0.4L-0.588,0.809L-0.38,0.124L-0.951,-0.309L-0.235,-0.324Z", "size": 1600, "filled": true, "opacity": 1, "strokeWidth": 1.5},
   "encoding": {
    "x": {"field": "x", "type": "quantitative", "scale": {"domain": [0, 25], "nice": false, "zero": false}, "axis": {"orient": "top", "labels": false, "values": [0, 5, 10, 15, 20, 25], "title": "Stance/Downstroke", "titleFont": "Liberation Serif", "titleFontSize": 32, "titleColor": "#000000", "titlePadding": 8, "titleX": 255.5}},
    "y": {"field": "y", "type": "quantitative", "scale": {"domain": [-1, 1], "nice": false, "zero": false}, "axis": {"orient": "right", "labels": false, "values": [-1, -0.5, 0, 0.5, 1], "title": null}},
    "fill": {"field": "k", "type": "nominal", "scale": {"domain": ["red", "green", "blue"], "range": ["#FF0000", "#70AD47", "#4472C4"]}, "legend": null},
    "stroke": {"field": "k", "type": "nominal", "scale": {"domain": ["red", "green", "blue"], "range": ["#FF0000", "#507E32", "#2F528F"]}, "legend": null}}}
 ],
 "resolve": {"axis": {"x": "independent", "y": "independent"}}
},
{
 "width": 483, "height": 246,
 "layer": [
  {"data": {"name": "lines"}, "transform": [{"filter": "datum.a == 'W' && datum.g == 'I'"}], "mark": {"type": "line", "clip": true, "strokeWidth": 1.2},
   "encoding": {
    "x": {"field": "x", "type": "quantitative", "scale": {"domain": [0, 25], "nice": false, "zero": false}, "axis": {"values": [0, 5, 10, 15, 20, 25], "title": null}},
    "y": {"field": "y", "type": "quantitative", "scale": {"domain": [-1, 1], "nice": false, "zero": false}, "axis": {"values": [-1, -0.5, 0, 0.5, 1], "title": null}},
    "color": {"field": "s", "type": "nominal", "scale": {"domain": ["blue", "orange", "yellow", "purple", "green"], "range": ["#0072BD", "#D95319", "#EDB120", "#7E2F8E", "#77AC30"]}, "legend": null},
    "order": {"field": "o", "type": "quantitative"}}},
  {"data": {"name": "arrows"}, "transform": [{"filter": "datum.p == 'WI'"}], "mark": {"type": "line", "color": "#000000", "strokeWidth": 1.5},
   "encoding": {
    "x": {"field": "x", "type": "quantitative", "scale": {"domain": [0, 25], "nice": false, "zero": false}, "axis": null},
    "y": {"field": "y", "type": "quantitative", "scale": {"domain": [-1, 1], "nice": false, "zero": false}, "axis": null},
    "order": {"field": "o", "type": "quantitative"}}},
  {"data": {"name": "heads"}, "transform": [{"filter": "datum.p == 'WI'"}], "mark": {"type": "point", "shape": "M0,-1L0.6,0.6L-0.6,0.6Z", "size": 484, "filled": true, "opacity": 1, "color": "#000000"},
   "encoding": {
    "x": {"field": "x", "type": "quantitative", "scale": {"domain": [0, 25], "nice": false, "zero": false}, "axis": null},
    "y": {"field": "y", "type": "quantitative", "scale": {"domain": [-1, 1], "nice": false, "zero": false}, "axis": null},
    "angle": {"field": "ang", "type": "quantitative", "scale": null}}},
  {"data": {"name": "stars"}, "transform": [{"filter": "datum.p == 'WI'"}], "mark": {"type": "point", "shape": "M0,-1L0.235,-0.324L0.951,-0.309L0.38,0.124L0.588,0.809L0,0.4L-0.588,0.809L-0.38,0.124L-0.951,-0.309L-0.235,-0.324Z", "size": 1600, "filled": true, "opacity": 1, "strokeWidth": 1.5},
   "encoding": {
    "x": {"field": "x", "type": "quantitative", "scale": {"domain": [0, 25], "nice": false, "zero": false}, "axis": {"orient": "top", "labels": false, "values": [0, 5, 10, 15, 20, 25], "title": "Initial Phase", "titleFont": "Liberation Serif", "titleFontSize": 32, "titleColor": "#000000", "titlePadding": 8, "titleX": 256}},
    "y": {"field": "y", "type": "quantitative", "scale": {"domain": [-1, 1], "nice": false, "zero": false}, "axis": {"orient": "right", "labels": false, "values": [-1, -0.5, 0, 0.5, 1], "title": null}},
    "fill": {"field": "k", "type": "nominal", "scale": {"domain": ["red", "green", "blue"], "range": ["#FF0000", "#70AD47", "#4472C4"]}, "legend": null},
    "stroke": {"field": "k", "type": "nominal", "scale": {"domain": ["red", "green", "blue"], "range": ["#FF0000", "#507E32", "#2F528F"]}, "legend": null}}}
 ],
 "resolve": {"axis": {"x": "independent", "y": "independent"}}
},
{
 "width": 483, "height": 246,
 "layer": [
  {"data": {"name": "lines"}, "transform": [{"filter": "datum.a == 'W' && datum.g == 'T'"}], "mark": {"type": "line", "clip": true, "strokeWidth": 1.2},
   "encoding": {
    "x": {"field": "x", "type": "quantitative", "scale": {"domain": [0, 25], "nice": false, "zero": false}, "axis": {"values": [0, 5, 10, 15, 20, 25], "title": null}},
    "y": {"field": "y", "type": "quantitative", "scale": {"domain": [-1, 1], "nice": false, "zero": false}, "axis": {"values": [-1, -0.5, 0, 0.5, 1], "title": null}},
    "color": {"field": "s", "type": "nominal", "scale": {"domain": ["blue", "orange", "yellow", "purple", "green"], "range": ["#0072BD", "#D95319", "#EDB120", "#7E2F8E", "#77AC30"]}, "legend": null},
    "order": {"field": "o", "type": "quantitative"}}},
  {"data": {"name": "arrows"}, "transform": [{"filter": "datum.p == 'WT'"}], "mark": {"type": "line", "color": "#000000", "strokeWidth": 1.5},
   "encoding": {
    "x": {"field": "x", "type": "quantitative", "scale": {"domain": [0, 25], "nice": false, "zero": false}, "axis": null},
    "y": {"field": "y", "type": "quantitative", "scale": {"domain": [-1, 1], "nice": false, "zero": false}, "axis": null},
    "order": {"field": "o", "type": "quantitative"}}},
  {"data": {"name": "heads"}, "transform": [{"filter": "datum.p == 'WT'"}], "mark": {"type": "point", "shape": "M0,-1L0.6,0.6L-0.6,0.6Z", "size": 484, "filled": true, "opacity": 1, "color": "#000000"},
   "encoding": {
    "x": {"field": "x", "type": "quantitative", "scale": {"domain": [0, 25], "nice": false, "zero": false}, "axis": null},
    "y": {"field": "y", "type": "quantitative", "scale": {"domain": [-1, 1], "nice": false, "zero": false}, "axis": null},
    "angle": {"field": "ang", "type": "quantitative", "scale": null}}},
  {"data": {"name": "stars"}, "transform": [{"filter": "datum.p == 'WT'"}], "mark": {"type": "point", "shape": "M0,-1L0.235,-0.324L0.951,-0.309L0.38,0.124L0.588,0.809L0,0.4L-0.588,0.809L-0.38,0.124L-0.951,-0.309L-0.235,-0.324Z", "size": 1600, "filled": true, "opacity": 1, "strokeWidth": 1.5},
   "encoding": {
    "x": {"field": "x", "type": "quantitative", "scale": {"domain": [0, 25], "nice": false, "zero": false}, "axis": {"orient": "top", "labels": false, "values": [0, 5, 10, 15, 20, 25], "title": "Terminal Phase", "titleFont": "Liberation Serif", "titleFontSize": 32, "titleColor": "#000000", "titlePadding": 8, "titleX": 249.5}},
    "y": {"field": "y", "type": "quantitative", "scale": {"domain": [-1, 1], "nice": false, "zero": false}, "axis": {"orient": "right", "labels": false, "values": [-1, -0.5, 0, 0.5, 1], "title": null}},
    "fill": {"field": "k", "type": "nominal", "scale": {"domain": ["red", "green", "blue"], "range": ["#FF0000", "#70AD47", "#4472C4"]}, "legend": null},
    "stroke": {"field": "k", "type": "nominal", "scale": {"domain": ["red", "green", "blue"], "range": ["#FF0000", "#507E32", "#2F528F"]}, "legend": null}}}
 ],
 "resolve": {"axis": {"x": "independent", "y": "independent"}}
},
{
 "width": 483, "height": 246,
 "title": {"text": "Running", "orient": "left", "font": "Liberation Serif", "fontSize": 32, "fontWeight": "normal", "color": "#000000", "offset": 11},
 "layer": [
  {"data": {"name": "lines"}, "transform": [{"filter": "datum.a == 'R'"}], "mark": {"type": "line", "clip": true, "strokeWidth": 1.2},
   "encoding": {
    "x": {"field": "x", "type": "quantitative", "scale": {"domain": [10, 55], "nice": false, "zero": false}, "axis": {"values": [10, 15, 20, 25, 30, 35, 40, 45, 50, 55], "title": null}},
    "y": {"field": "y", "type": "quantitative", "scale": {"domain": [-1, 3.5], "nice": false, "zero": false}, "axis": {"values": [-1, 0, 1, 2, 3], "title": "Knee Flexion Moment (Nm/kg)", "titleFontSize": 18, "titlePadding": 5, "minExtent": 35, "maxExtent": 35}},
    "color": {"field": "s", "type": "nominal", "scale": {"domain": ["blue", "orange", "yellow", "purple", "green"], "range": ["#0072BD", "#D95319", "#EDB120", "#7E2F8E", "#77AC30"]}, "legend": null},
    "order": {"field": "o", "type": "quantitative"}}},
  {"data": {"name": "stars"}, "transform": [{"filter": "datum.p == 'RS'"}], "mark": {"type": "point", "shape": "M0,-1L0.235,-0.324L0.951,-0.309L0.38,0.124L0.588,0.809L0,0.4L-0.588,0.809L-0.38,0.124L-0.951,-0.309L-0.235,-0.324Z", "size": 1600, "filled": true, "opacity": 1, "strokeWidth": 1.5},
   "encoding": {
    "x": {"field": "x", "type": "quantitative", "scale": {"domain": [10, 55], "nice": false, "zero": false}, "axis": {"orient": "top", "labels": false, "values": [10, 15, 20, 25, 30, 35, 40, 45, 50, 55], "title": null}},
    "y": {"field": "y", "type": "quantitative", "scale": {"domain": [-1, 3.5], "nice": false, "zero": false}, "axis": {"orient": "right", "labels": false, "values": [-1, 0, 1, 2, 3], "title": null}},
    "fill": {"field": "k", "type": "nominal", "scale": {"domain": ["red", "green", "blue"], "range": ["#FF0000", "#70AD47", "#4472C4"]}, "legend": null},
    "stroke": {"field": "k", "type": "nominal", "scale": {"domain": ["red", "green", "blue"], "range": ["#FF0000", "#507E32", "#2F528F"]}, "legend": null}}}
 ],
 "resolve": {"axis": {"x": "independent", "y": "independent"}}
},
{
 "width": 483, "height": 246,
 "layer": [
  {"data": {"name": "lines"}, "transform": [{"filter": "datum.a == 'R' && datum.g == 'I'"}], "mark": {"type": "line", "clip": true, "strokeWidth": 1.2},
   "encoding": {
    "x": {"field": "x", "type": "quantitative", "scale": {"domain": [10, 55], "nice": false, "zero": false}, "axis": {"values": [10, 15, 20, 25, 30, 35, 40, 45, 50, 55], "title": null}},
    "y": {"field": "y", "type": "quantitative", "scale": {"domain": [-1, 3.5], "nice": false, "zero": false}, "axis": {"values": [-1, 0, 1, 2, 3], "title": null}},
    "color": {"field": "s", "type": "nominal", "scale": {"domain": ["blue", "orange", "yellow", "purple", "green"], "range": ["#0072BD", "#D95319", "#EDB120", "#7E2F8E", "#77AC30"]}, "legend": null},
    "order": {"field": "o", "type": "quantitative"}}},
  {"data": {"name": "arrows"}, "transform": [{"filter": "datum.p == 'RI'"}], "mark": {"type": "line", "color": "#000000", "strokeWidth": 1.5},
   "encoding": {
    "x": {"field": "x", "type": "quantitative", "scale": {"domain": [10, 55], "nice": false, "zero": false}, "axis": null},
    "y": {"field": "y", "type": "quantitative", "scale": {"domain": [-1, 3.5], "nice": false, "zero": false}, "axis": null},
    "order": {"field": "o", "type": "quantitative"}}},
  {"data": {"name": "heads"}, "transform": [{"filter": "datum.p == 'RI'"}], "mark": {"type": "point", "shape": "M0,-1L0.6,0.6L-0.6,0.6Z", "size": 484, "filled": true, "opacity": 1, "color": "#000000"},
   "encoding": {
    "x": {"field": "x", "type": "quantitative", "scale": {"domain": [10, 55], "nice": false, "zero": false}, "axis": null},
    "y": {"field": "y", "type": "quantitative", "scale": {"domain": [-1, 3.5], "nice": false, "zero": false}, "axis": null},
    "angle": {"field": "ang", "type": "quantitative", "scale": null}}},
  {"data": {"name": "stars"}, "transform": [{"filter": "datum.p == 'RI'"}], "mark": {"type": "point", "shape": "M0,-1L0.235,-0.324L0.951,-0.309L0.38,0.124L0.588,0.809L0,0.4L-0.588,0.809L-0.38,0.124L-0.951,-0.309L-0.235,-0.324Z", "size": 1600, "filled": true, "opacity": 1, "strokeWidth": 1.5},
   "encoding": {
    "x": {"field": "x", "type": "quantitative", "scale": {"domain": [10, 55], "nice": false, "zero": false}, "axis": {"orient": "top", "labels": false, "values": [10, 15, 20, 25, 30, 35, 40, 45, 50, 55], "title": null}},
    "y": {"field": "y", "type": "quantitative", "scale": {"domain": [-1, 3.5], "nice": false, "zero": false}, "axis": {"orient": "right", "labels": false, "values": [-1, 0, 1, 2, 3], "title": null}},
    "fill": {"field": "k", "type": "nominal", "scale": {"domain": ["red", "green", "blue"], "range": ["#FF0000", "#70AD47", "#4472C4"]}, "legend": null},
    "stroke": {"field": "k", "type": "nominal", "scale": {"domain": ["red", "green", "blue"], "range": ["#FF0000", "#507E32", "#2F528F"]}, "legend": null}}}
 ],
 "resolve": {"axis": {"x": "independent", "y": "independent"}}
},
{
 "width": 483, "height": 246,
 "layer": [
  {"data": {"name": "lines"}, "transform": [{"filter": "datum.a == 'R' && datum.g == 'T'"}], "mark": {"type": "line", "clip": true, "strokeWidth": 1.2},
   "encoding": {
    "x": {"field": "x", "type": "quantitative", "scale": {"domain": [10, 55], "nice": false, "zero": false}, "axis": {"values": [10, 15, 20, 25, 30, 35, 40, 45, 50, 55], "title": null}},
    "y": {"field": "y", "type": "quantitative", "scale": {"domain": [-1, 3.5], "nice": false, "zero": false}, "axis": {"values": [-1, 0, 1, 2, 3], "title": null}},
    "color": {"field": "s", "type": "nominal", "scale": {"domain": ["blue", "orange", "yellow", "purple", "green"], "range": ["#0072BD", "#D95319", "#EDB120", "#7E2F8E", "#77AC30"]}, "legend": null},
    "order": {"field": "o", "type": "quantitative"}}},
  {"data": {"name": "arrows"}, "transform": [{"filter": "datum.p == 'RT'"}], "mark": {"type": "line", "color": "#000000", "strokeWidth": 1.5},
   "encoding": {
    "x": {"field": "x", "type": "quantitative", "scale": {"domain": [10, 55], "nice": false, "zero": false}, "axis": null},
    "y": {"field": "y", "type": "quantitative", "scale": {"domain": [-1, 3.5], "nice": false, "zero": false}, "axis": null},
    "order": {"field": "o", "type": "quantitative"}}},
  {"data": {"name": "heads"}, "transform": [{"filter": "datum.p == 'RT'"}], "mark": {"type": "point", "shape": "M0,-1L0.6,0.6L-0.6,0.6Z", "size": 484, "filled": true, "opacity": 1, "color": "#000000"},
   "encoding": {
    "x": {"field": "x", "type": "quantitative", "scale": {"domain": [10, 55], "nice": false, "zero": false}, "axis": null},
    "y": {"field": "y", "type": "quantitative", "scale": {"domain": [-1, 3.5], "nice": false, "zero": false}, "axis": null},
    "angle": {"field": "ang", "type": "quantitative", "scale": null}}},
  {"data": {"name": "stars"}, "transform": [{"filter": "datum.p == 'RT'"}], "mark": {"type": "point", "shape": "M0,-1L0.235,-0.324L0.951,-0.309L0.38,0.124L0.588,0.809L0,0.4L-0.588,0.809L-0.38,0.124L-0.951,-0.309L-0.235,-0.324Z", "size": 1600, "filled": true, "opacity": 1, "strokeWidth": 1.5},
   "encoding": {
    "x": {"field": "x", "type": "quantitative", "scale": {"domain": [10, 55], "nice": false, "zero": false}, "axis": {"orient": "top", "labels": false, "values": [10, 15, 20, 25, 30, 35, 40, 45, 50, 55], "title": null}},
    "y": {"field": "y", "type": "quantitative", "scale": {"domain": [-1, 3.5], "nice": false, "zero": false}, "axis": {"orient": "right", "labels": false, "values": [-1, 0, 1, 2, 3], "title": null}},
    "fill": {"field": "k", "type": "nominal", "scale": {"domain": ["red", "green", "blue"], "range": ["#FF0000", "#70AD47", "#4472C4"]}, "legend": null},
    "stroke": {"field": "k", "type": "nominal", "scale": {"domain": ["red", "green", "blue"], "range": ["#FF0000", "#507E32", "#2F528F"]}, "legend": null}}}
 ],
 "resolve": {"axis": {"x": "independent", "y": "independent"}}
},
{
 "width": 483, "height": 242,
 "title": {"text": "Cycling", "orient": "left", "font": "Liberation Serif", "fontSize": 32, "fontWeight": "normal", "color": "#000000", "offset": 11},
 "layer": [
  {"data": {"name": "lines"}, "transform": [{"filter": "datum.a == 'C'"}], "mark": {"type": "line", "clip": true, "strokeWidth": 1.2},
   "encoding": {
    "x": {"field": "x", "type": "quantitative", "scale": {"domain": [30, 110], "nice": false, "zero": false}, "axis": {"values": [30, 40, 50, 60, 70, 80, 90, 100, 110], "title": "Knee Flexion Angles (Deg)", "titlePadding": 16}},
    "y": {"field": "y", "type": "quantitative", "scale": {"domain": [-0.3, 0.6], "nice": false, "zero": false}, "axis": {"values": [-0.2, 0, 0.2, 0.4, 0.6], "title": "Knee Flexion Moment (Nm/kg)", "titleFontSize": 18, "titlePadding": 5, "minExtent": 35, "maxExtent": 35}},
    "color": {"field": "s", "type": "nominal", "scale": {"domain": ["blue", "orange", "yellow", "purple", "green"], "range": ["#0072BD", "#D95319", "#EDB120", "#7E2F8E", "#77AC30"]}, "legend": null},
    "order": {"field": "o", "type": "quantitative"}}},
  {"data": {"name": "stars"}, "transform": [{"filter": "datum.p == 'CS'"}], "mark": {"type": "point", "shape": "M0,-1L0.235,-0.324L0.951,-0.309L0.38,0.124L0.588,0.809L0,0.4L-0.588,0.809L-0.38,0.124L-0.951,-0.309L-0.235,-0.324Z", "size": 1600, "filled": true, "opacity": 1, "strokeWidth": 1.5},
   "encoding": {
    "x": {"field": "x", "type": "quantitative", "scale": {"domain": [30, 110], "nice": false, "zero": false}, "axis": {"orient": "top", "labels": false, "values": [30, 40, 50, 60, 70, 80, 90, 100, 110], "title": null}},
    "y": {"field": "y", "type": "quantitative", "scale": {"domain": [-0.3, 0.6], "nice": false, "zero": false}, "axis": {"orient": "right", "labels": false, "values": [-0.2, 0, 0.2, 0.4, 0.6], "title": null}},
    "fill": {"field": "k", "type": "nominal", "scale": {"domain": ["red", "green", "blue"], "range": ["#FF0000", "#70AD47", "#4472C4"]}, "legend": null},
    "stroke": {"field": "k", "type": "nominal", "scale": {"domain": ["red", "green", "blue"], "range": ["#FF0000", "#507E32", "#2F528F"]}, "legend": null}}}
 ],
 "resolve": {"axis": {"x": "independent", "y": "independent"}}
},
{
 "width": 483, "height": 242,
 "layer": [
  {"data": {"name": "lines"}, "transform": [{"filter": "datum.a == 'C' && datum.g == 'I'"}], "mark": {"type": "line", "clip": true, "strokeWidth": 1.2},
   "encoding": {
    "x": {"field": "x", "type": "quantitative", "scale": {"domain": [30, 110], "nice": false, "zero": false}, "axis": {"values": [30, 40, 50, 60, 70, 80, 90, 100, 110], "title": "Knee Flexion Angles (Deg)", "titlePadding": 16}},
    "y": {"field": "y", "type": "quantitative", "scale": {"domain": [-0.3, 0.6], "nice": false, "zero": false}, "axis": {"values": [-0.2, 0, 0.2, 0.4, 0.6], "title": null}},
    "color": {"field": "s", "type": "nominal", "scale": {"domain": ["blue", "orange", "yellow", "purple", "green"], "range": ["#0072BD", "#D95319", "#EDB120", "#7E2F8E", "#77AC30"]}, "legend": null},
    "order": {"field": "o", "type": "quantitative"}}},
  {"data": {"name": "arrows"}, "transform": [{"filter": "datum.p == 'CI'"}], "mark": {"type": "line", "color": "#000000", "strokeWidth": 1.5},
   "encoding": {
    "x": {"field": "x", "type": "quantitative", "scale": {"domain": [30, 110], "nice": false, "zero": false}, "axis": null},
    "y": {"field": "y", "type": "quantitative", "scale": {"domain": [-0.3, 0.6], "nice": false, "zero": false}, "axis": null},
    "order": {"field": "o", "type": "quantitative"}}},
  {"data": {"name": "heads"}, "transform": [{"filter": "datum.p == 'CI'"}], "mark": {"type": "point", "shape": "M0,-1L0.6,0.6L-0.6,0.6Z", "size": 484, "filled": true, "opacity": 1, "color": "#000000"},
   "encoding": {
    "x": {"field": "x", "type": "quantitative", "scale": {"domain": [30, 110], "nice": false, "zero": false}, "axis": null},
    "y": {"field": "y", "type": "quantitative", "scale": {"domain": [-0.3, 0.6], "nice": false, "zero": false}, "axis": null},
    "angle": {"field": "ang", "type": "quantitative", "scale": null}}},
  {"data": {"name": "stars"}, "transform": [{"filter": "datum.p == 'CI'"}], "mark": {"type": "point", "shape": "M0,-1L0.235,-0.324L0.951,-0.309L0.38,0.124L0.588,0.809L0,0.4L-0.588,0.809L-0.38,0.124L-0.951,-0.309L-0.235,-0.324Z", "size": 1600, "filled": true, "opacity": 1, "strokeWidth": 1.5},
   "encoding": {
    "x": {"field": "x", "type": "quantitative", "scale": {"domain": [30, 110], "nice": false, "zero": false}, "axis": {"orient": "top", "labels": false, "values": [30, 40, 50, 60, 70, 80, 90, 100, 110], "title": null}},
    "y": {"field": "y", "type": "quantitative", "scale": {"domain": [-0.3, 0.6], "nice": false, "zero": false}, "axis": {"orient": "right", "labels": false, "values": [-0.2, 0, 0.2, 0.4, 0.6], "title": null}},
    "fill": {"field": "k", "type": "nominal", "scale": {"domain": ["red", "green", "blue"], "range": ["#FF0000", "#70AD47", "#4472C4"]}, "legend": null},
    "stroke": {"field": "k", "type": "nominal", "scale": {"domain": ["red", "green", "blue"], "range": ["#FF0000", "#507E32", "#2F528F"]}, "legend": null}}}
 ],
 "resolve": {"axis": {"x": "independent", "y": "independent"}}
},
{
 "width": 483, "height": 242,
 "layer": [
  {"data": {"name": "lines"}, "transform": [{"filter": "datum.a == 'C' && datum.g == 'T'"}], "mark": {"type": "line", "clip": true, "strokeWidth": 1.2},
   "encoding": {
    "x": {"field": "x", "type": "quantitative", "scale": {"domain": [30, 110], "nice": false, "zero": false}, "axis": {"values": [30, 40, 50, 60, 70, 80, 90, 100, 110], "title": "Knee Flexion Angles (Deg)", "titlePadding": 16}},
    "y": {"field": "y", "type": "quantitative", "scale": {"domain": [-0.3, 0.6], "nice": false, "zero": false}, "axis": {"values": [-0.2, 0, 0.2, 0.4, 0.6], "title": null}},
    "color": {"field": "s", "type": "nominal", "scale": {"domain": ["blue", "orange", "yellow", "purple", "green"], "range": ["#0072BD", "#D95319", "#EDB120", "#7E2F8E", "#77AC30"]}, "legend": null},
    "order": {"field": "o", "type": "quantitative"}}},
  {"data": {"name": "arrows"}, "transform": [{"filter": "datum.p == 'CT'"}], "mark": {"type": "line", "color": "#000000", "strokeWidth": 1.5},
   "encoding": {
    "x": {"field": "x", "type": "quantitative", "scale": {"domain": [30, 110], "nice": false, "zero": false}, "axis": null},
    "y": {"field": "y", "type": "quantitative", "scale": {"domain": [-0.3, 0.6], "nice": false, "zero": false}, "axis": null},
    "order": {"field": "o", "type": "quantitative"}}},
  {"data": {"name": "heads"}, "transform": [{"filter": "datum.p == 'CT'"}], "mark": {"type": "point", "shape": "M0,-1L0.6,0.6L-0.6,0.6Z", "size": 484, "filled": true, "opacity": 1, "color": "#000000"},
   "encoding": {
    "x": {"field": "x", "type": "quantitative", "scale": {"domain": [30, 110], "nice": false, "zero": false}, "axis": null},
    "y": {"field": "y", "type": "quantitative", "scale": {"domain": [-0.3, 0.6], "nice": false, "zero": false}, "axis": null},
    "angle": {"field": "ang", "type": "quantitative", "scale": null}}},
  {"data": {"name": "stars"}, "transform": [{"filter": "datum.p == 'CT'"}], "mark": {"type": "point", "shape": "M0,-1L0.235,-0.324L0.951,-0.309L0.38,0.124L0.588,0.809L0,0.4L-0.588,0.809L-0.38,0.124L-0.951,-0.309L-0.235,-0.324Z", "size": 1600, "filled": true, "opacity": 1, "strokeWidth": 1.5},
   "encoding": {
    "x": {"field": "x", "type": "quantitative", "scale": {"domain": [30, 110], "nice": false, "zero": false}, "axis": {"orient": "top", "labels": false, "values": [30, 40, 50, 60, 70, 80, 90, 100, 110], "title": null}},
    "y": {"field": "y", "type": "quantitative", "scale": {"domain": [-0.3, 0.6], "nice": false, "zero": false}, "axis": {"orient": "right", "labels": false, "values": [-0.2, 0, 0.2, 0.4, 0.6], "title": null}},
    "fill": {"field": "k", "type": "nominal", "scale": {"domain": ["red", "green", "blue"], "range": ["#FF0000", "#70AD47", "#4472C4"]}, "legend": null},
    "stroke": {"field": "k", "type": "nominal", "scale": {"domain": ["red", "green", "blue"], "range": ["#FF0000", "#507E32", "#2F528F"]}, "legend": null}}}
 ],
 "resolve": {"axis": {"x": "independent", "y": "independent"}}
}
]
}
